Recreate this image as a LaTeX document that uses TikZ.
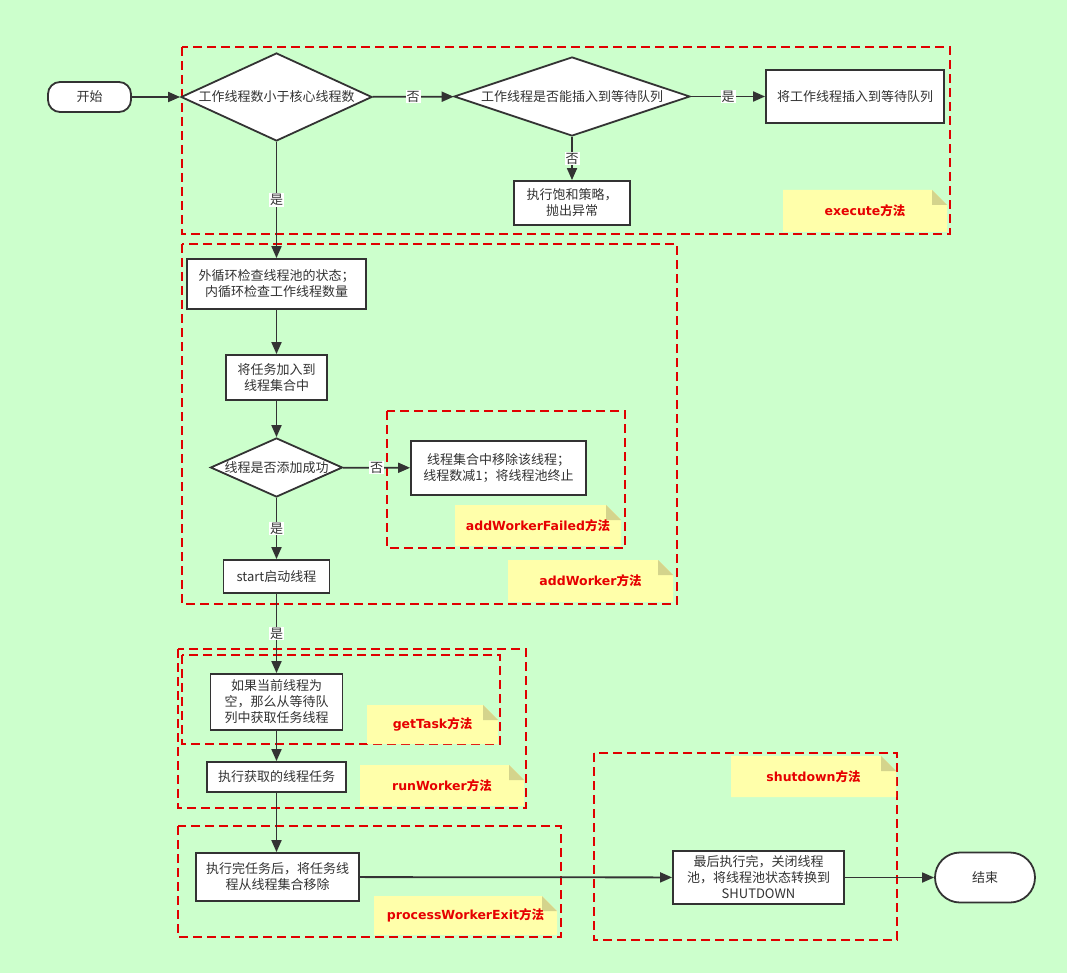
\documentclass[tikz,border=0pt]{standalone}
\usepackage{fontspec}
\setmainfont{Noto Sans CJK SC}
\newfontfamily\latb{DejaVu Sans}
\usetikzlibrary{shapes.geometric,arrows.meta}
\definecolor{bgc}{HTML}{CCFFCC}
\definecolor{lnc}{HTML}{333333}
\definecolor{frc}{HTML}{E00000}
\definecolor{ntc}{HTML}{FFFFAA}
\definecolor{fdc}{HTML}{D4D48C}
\definecolor{lbc}{HTML}{E60000}
\newcommand\methodlabel[1]{{\latb\bfseries #1}{\bfseries 方法}}
\tikzset{
  base/.style={draw=lnc, line width=1.8pt, fill=white, text=lnc, align=center, inner sep=0pt,
    font=\fontsize{13pt}{16pt}\selectfont},
  stepbox/.style={base, rectangle},
  decide/.style={base, diamond},
  term/.style={base, rectangle, rounded corners=#1},
  arr/.style={draw=lnc, line width=1.8pt, -{Triangle[length=12pt,width=10pt]}},
  lbl/.style={fill=white, inner sep=1pt, text=lnc, font=\fontsize{13pt}{16pt}\selectfont},
  frame/.style={draw=frc, line width=1.8pt, dash pattern=on 9pt off 5pt},
  note/.style={rectangle, inner sep=0pt, text=lbc, font=\fontsize{12.5pt}{15pt}\selectfont,
    path picture={
      \fill[ntc] (path picture bounding box.south west) -- (path picture bounding box.north west)
        -- ([xshift=-15pt]path picture bounding box.north east)
        -- ([yshift=-15pt]path picture bounding box.north east)
        -- (path picture bounding box.south east) -- cycle;
      \fill[fdc] ([xshift=-15pt]path picture bounding box.north east)
        -- ([yshift=-15pt]path picture bounding box.north east)
        -- ([xshift=-15pt,yshift=-15pt]path picture bounding box.north east) -- cycle;
    }},
}
\begin{document}
\begin{tikzpicture}[x=1pt,y=-1pt]
\fill[bgc] (0,0) rectangle (1067,973);
\useasboundingbox (0,0) rectangle (1067,973);

% method frames
\draw[frame] (182,47) rectangle (950,234);
\draw[frame] (182,244) rectangle (677,604);
\draw[frame] (387,411) rectangle (625,548);
\draw[frame] (178,649) rectangle (526,808);
\draw[frame] (182,655) rectangle (500,744);
\draw[frame] (178,826) rectangle (561,937);
\draw[frame] (594,753) rectangle (897,940);

% method notes
\node[note, minimum width=164pt, minimum height=42pt] (nexec) at (865,211) {\methodlabel{execute}};
\node[note, minimum width=166pt, minimum height=41pt] (nfail) at (538,525.5) {\methodlabel{addWorkerFailed}};
\node[note, minimum width=165pt, minimum height=42pt] (nadd) at (590.5,581) {\methodlabel{addWorker}};
\node[note, minimum width=131pt, minimum height=39pt] (nget) at (432.5,724.5) {\methodlabel{getTask}};
\node[note, minimum width=164pt, minimum height=41pt] (nrun) at (442,785.5) {\methodlabel{runWorker}};
\node[note, minimum width=183pt, minimum height=39pt] (npwe) at (465.5,915.5) {\methodlabel{processWorkerExit}};
\node[note, minimum width=165pt, minimum height=41pt] (nshut) at (813.5,776.5) {\methodlabel{shutdown}};

% flow nodes
\node[term=12pt, minimum width=83pt, minimum height=30pt] (start) at (89.5,97) {开始};
\node[decide, aspect=2.17, minimum width=191pt, minimum height=88pt] (d1) at (276.5,97) {工作线程数小于核心线程数};
\node[decide, aspect=2.99, minimum width=236pt, minimum height=79pt] (d2) at (572,96.5) {工作线程是否能插入到等待队列};
\node[stepbox, minimum width=178pt, minimum height=53pt] (queue) at (855,96.5) {将工作线程插入到等待队列};
\node[stepbox, minimum width=116pt, minimum height=44pt] (sat) at (572,203) {执行饱和策略，\\抛出异常};
\node[stepbox, minimum width=179pt, minimum height=50pt] (outer) at (276.5,284) {外循环检查线程池的状态；\\内循环检查工作线程数量};
\node[stepbox, minimum width=101pt, minimum height=45pt] (add) at (276.5,377.5) {将任务加入到\\线程集合中};
\node[decide, aspect=2.24, inner xsep=-3pt, inner ysep=-1pt, minimum width=132pt, minimum height=59pt] (d3) at (276.5,467.5) {线程是否添加成功};
\node[stepbox, minimum width=175pt, minimum height=54pt] (fail) at (498.5,468) {线程集合中移除该线程；\\线程数减1；将线程池终止};
\node[stepbox, minimum width=106pt, minimum height=33pt] (launch) at (276.5,576.5) {start启动线程};
\node[stepbox, minimum width=132pt, minimum height=56pt] (gettask) at (276.5,702) {如果当前线程为\\空，那么从等待队\\列中获取任务线程};
\node[stepbox, minimum width=139pt, minimum height=30pt] (run) at (276.5,777) {执行获取的线程任务};
\node[stepbox, minimum width=163pt, minimum height=48pt] (exitb) at (277.5,877) {执行完任务后，将任务线\\程从线程集合移除};
\node[stepbox, minimum width=171pt, minimum height=53pt] (shut) at (758.5,877.5) {最后执行完，关闭线程\\池，将线程池状态转换到\\SHUTDOWN};
\node[term=25pt, minimum width=100pt, minimum height=50pt] (finish) at (985,877.5) {结束};

% connectors
\draw[arr] (start) -- (d1);
\draw[arr] (d1) -- node[lbl]{否} (d2);
\draw[arr] (d2) -- node[lbl]{是} (queue);
\draw[arr] (d2) -- node[lbl]{否} (sat);
\draw[arr] (d1.south) -- node[lbl]{是} (d1.south |- outer.north);
\draw[arr] (outer) -- (add);
\draw[arr] (add) -- (d3);
\draw[arr] (d3) -- node[lbl]{否} (fail);
\draw[arr] (d3) -- node[lbl]{是} (launch);
\draw[arr] (launch) -- node[lbl]{是} (gettask);
\draw[arr] (gettask) -- (run);
\draw[arr] (run) -- (exitb.north -| run.south);
\draw[arr] (exitb) -- (shut);
\draw[arr] (shut) -- (finish);
\end{tikzpicture}
\end{document}
